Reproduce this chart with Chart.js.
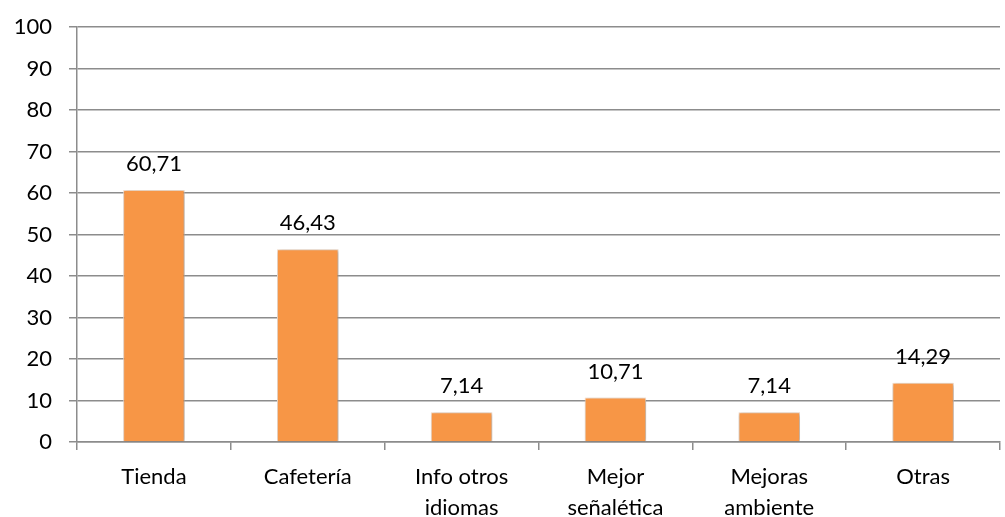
<!DOCTYPE html>
<html lang="es">
<head>
  <meta charset="UTF-8" />
  <title>Mejoras sugeridas</title>
  <script src="https://cdn.jsdelivr.net/npm/chart.js"></script>
  <style>
    * { margin: 0; padding: 0; box-sizing: border-box; }
    body { background: #ffffff; width: 1005px; height: 517px; overflow: hidden; }
    #wrap { position: relative; width: 1005px; height: 517px; }
  </style>
</head>
<body>
  <div id="wrap"><canvas id="grafico"></canvas></div>
  <script>
    const categorias = ['Tienda', 'Cafetería', ['Info otros', 'idiomas'], ['Mejor', 'señalética'], ['Mejoras', 'ambiente'], 'Otras'];
    const porcentajes = [60.71, 46.43, 7.14, 10.71, 7.14, 14.29];
    const yMin = 0;
    const yMax = 100;
    const yPaso = 10;

    const fuente = "Lato, 'Open Sans', sans-serif";
    const gris = '#8c8c8c';

    // etiquetas de valor encima de cada barra, con coma decimal
    const etiquetas = {
      id: 'etiquetas',
      afterDatasetsDraw(chart) {
        const ctx = chart.ctx;
        const meta = chart.getDatasetMeta(0);
        ctx.save();
        ctx.font = '22px ' + fuente;
        ctx.fillStyle = '#000';
        ctx.textAlign = 'center';
        ctx.textBaseline = 'middle';
        meta.data.forEach((bar, i) => {
          const txt = porcentajes[i].toFixed(2).replace('.', ',');
          ctx.fillText(txt, bar.x, bar.y - 26);
        });
        ctx.restore();
      }
    };

    // sombra suave alrededor de las barras
    const sombra = {
      id: 'sombra',
      beforeDatasetDraw(chart) {
        const ctx = chart.ctx;
        ctx.save();
        ctx.shadowColor = 'rgba(0,0,0,0.35)';
        ctx.shadowBlur = 4;
        ctx.shadowOffsetX = 1;
        ctx.shadowOffsetY = 1;
      },
      afterDatasetDraw(chart) {
        chart.ctx.restore();
      }
    };

    new Chart(document.getElementById('grafico'), {
      type: 'bar',
      data: {
        labels: categorias,
        datasets: [{
          data: porcentajes,
          backgroundColor: '#f79646',
          borderColor: '#fbe3d0',
          borderWidth: 1,
          barPercentage: 0.4,
          categoryPercentage: 1.0
        }]
      },
      options: {
        responsive: true,
        maintainAspectRatio: false,
        animation: false,
        layout: { padding: { top: 27, right: 5, bottom: 0, left: 0 } },
        plugins: {
          legend: { display: false },
          tooltip: { enabled: false }
        },
        scales: {
          x: {
            grid: {
              offset: true,
              drawOnChartArea: false,
              drawTicks: true,
              tickLength: 8,
              color: gris,
              lineWidth: 1.5
            },
            border: { color: gris, width: 1.5 },
            ticks: {
              color: '#000',
              font: { family: fuente, size: 22, lineHeight: 1.38 },
              padding: 12,
              maxRotation: 0,
              autoSkip: false
            },
            afterFit(scale) {
              scale.height = 75;
              scale.paddingLeft = 0;
              scale.paddingRight = 0;
            }
          },
          y: {
            min: yMin,
            max: yMax,
            grid: {
              color: gris,
              lineWidth: 1.5,
              tickLength: 8
            },
            border: { color: gris, width: 1.5 },
            ticks: {
              stepSize: yPaso,
              color: '#000',
              font: { family: fuente, size: 22 },
              padding: 17
            },
            afterFit(scale) {
              scale.width = 77;
              scale.paddingTop = 0;
              scale.paddingBottom = 0;
            }
          }
        }
      },
      plugins: [sombra, etiquetas]
    });
  </script>
</body>
</html>
